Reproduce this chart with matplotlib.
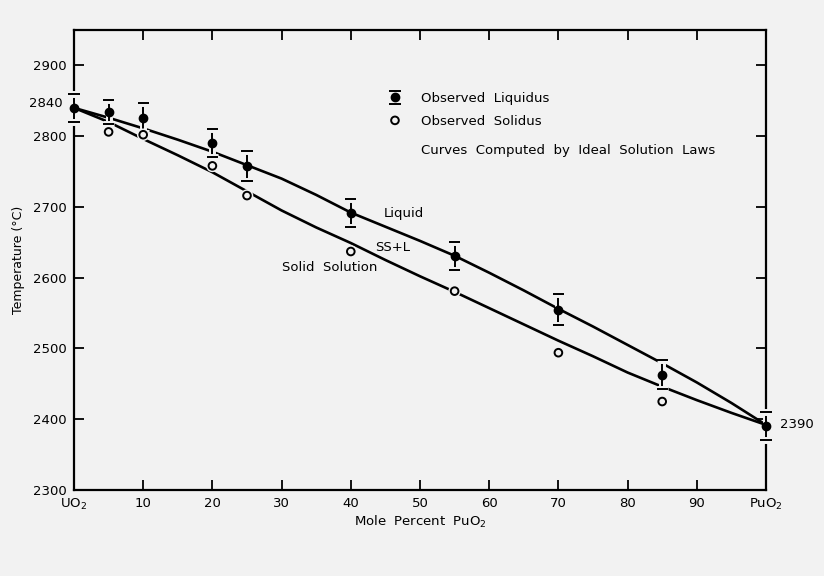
import matplotlib
matplotlib.use('Agg')
import matplotlib.pyplot as plt
import matplotlib.patheffects as pe

# ---- data ----
liq_pct = [0, 5, 10, 20, 25, 40, 55, 70, 85, 100]
liq_temp = [2840, 2834, 2826, 2790, 2758, 2691, 2631, 2555, 2463, 2390]
liq_err = [20, 17, 21, 20, 21, 20, 20, 22, 20, 20]

sol_pct = [5, 10, 20, 25, 40, 55, 70, 85]
sol_temp = [2806, 2802, 2758, 2716, 2637, 2581, 2494, 2425]

curve_pct = [0, 5, 10, 15, 20, 25, 30, 35, 40, 45, 50, 55, 60, 65, 70, 75, 80, 85, 90, 95, 100]
liq_curve = [2840, 2826, 2811, 2795, 2778, 2759, 2740, 2717, 2692, 2672, 2652, 2631,
             2607, 2582, 2556, 2531, 2505, 2479, 2452, 2423, 2392]
sol_curve = [2840, 2820, 2796, 2773, 2749, 2722, 2695, 2671, 2649, 2625, 2602, 2580,
             2557, 2534, 2511, 2489, 2466, 2446, 2427, 2409, 2392]

xtick_vals = [0, 10, 20, 30, 40, 50, 60, 70, 80, 90, 100]
xtick_labels = ['UO$_2$', '10', '20', '30', '40', '50', '60', '70', '80', '90', 'PuO$_2$']
ytick_vals = [2300, 2400, 2500, 2600, 2700, 2800, 2900]

# ---- style ----
plt.rcParams['font.family'] = ['DejaVu Sans']
plt.rcParams['mathtext.default'] = 'regular'
bg = '#f2f2f2'
fs = 9.5

fig = plt.figure(figsize=(8.24, 5.76), dpi=100, facecolor=bg)
ax = fig.add_axes([74 / 824, 1 - 490 / 576, 692 / 824, 460 / 576])
ax.set_facecolor(bg)
ax.set_xlim(0, 100)
ax.set_ylim(2300, 2950)

halo = [pe.withStroke(linewidth=5, foreground=bg)]

ax.plot(curve_pct, liq_curve, color='black', lw=1.9, zorder=2)
ax.plot(curve_pct, sol_curve, color='black', lw=1.9, zorder=2)

eb = ax.errorbar(liq_pct, liq_temp, yerr=liq_err, fmt='o', color='black', ms=6,
                 capsize=4, elinewidth=1.4, capthick=1.4, zorder=5)
eb[0].set_clip_on(False)
for c in eb[1]:
    c.set_path_effects(halo)
    c.set_clip_on(False)
for b in eb[2]:
    b.set_path_effects(halo)
    b.set_clip_on(False)

sol, = ax.plot(sol_pct, sol_temp, 'o', mfc=bg, mec='black', ms=5.5, mew=1.4, zorder=5,
               path_effects=[pe.withStroke(linewidth=3.5, foreground=bg)])

# axes styling
for s in ax.spines.values():
    s.set_linewidth(1.6)
ax.set_xticks(xtick_vals)
ax.set_xticklabels(xtick_labels)
ax.set_yticks(ytick_vals)
ax.tick_params(direction='in', length=7, width=1.3, top=True, right=True,
               labelsize=fs, pad=5)

ax.set_xlabel('Mole  Percent  PuO$_2$', fontsize=fs, labelpad=1)
ax.set_ylabel('Temperature (°C)', fontsize=9, labelpad=6)

# legend
ax.legend([eb, sol], ['Observed  Liquidus', 'Observed  Solidus'], loc='upper left',
          bbox_to_anchor=(0.4543, 0.865), frameon=False, borderpad=0, borderaxespad=0,
          handlelength=1.0, handletextpad=1.47, labelspacing=0.75, fontsize=fs)
ax.text(50.1, 2780, 'Curves  Computed  by  Ideal  Solution  Laws', fontsize=fs, va='center')

# region labels
ax.text(44.7, 2691, 'Liquid', fontsize=fs, va='center')
ax.text(43.5, 2642, 'SS+L', fontsize=fs, va='center')
ax.text(30.1, 2614, 'Solid  Solution', fontsize=fs, va='center')

# end-point labels
ax.annotate('2840', xy=(0, 2840), xytext=(-8, 3), textcoords='offset points',
            ha='right', va='center', fontsize=fs, annotation_clip=False)
ax.annotate('2390', xy=(100, 2390), xytext=(10, 1), textcoords='offset points',
            ha='left', va='center', fontsize=fs, annotation_clip=False)

fig.savefig('out.png', dpi=100, facecolor=bg)
